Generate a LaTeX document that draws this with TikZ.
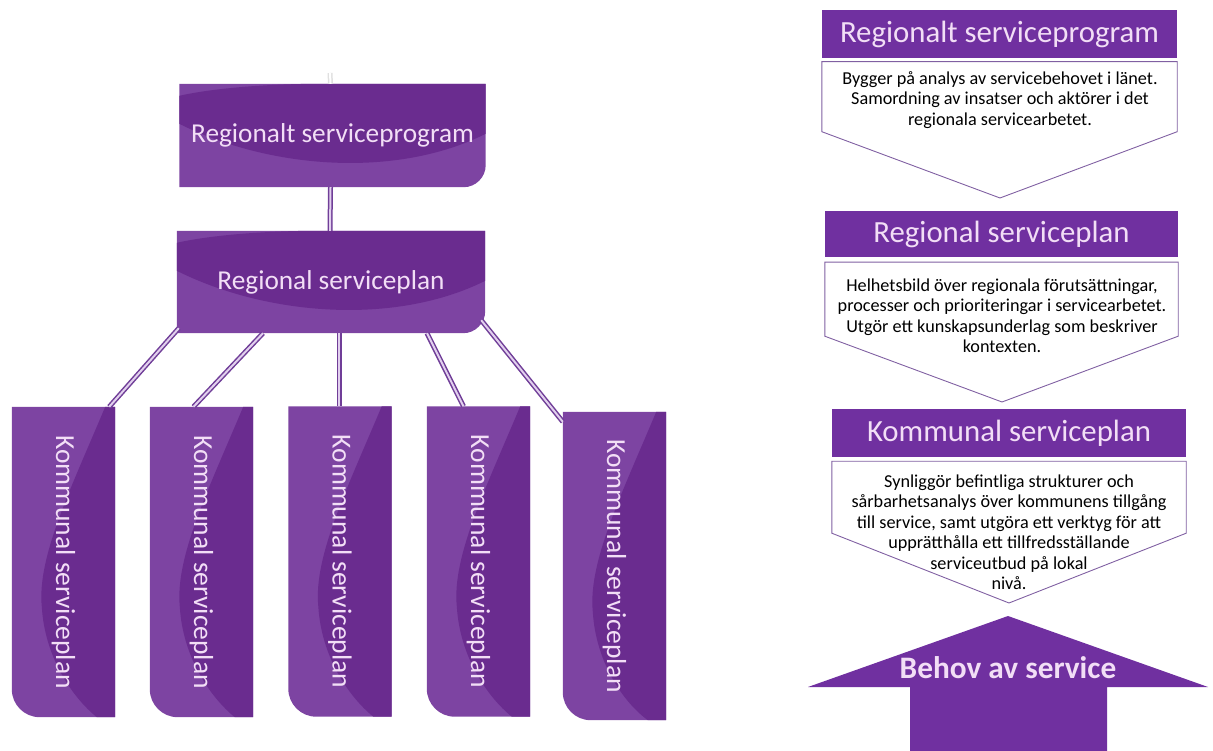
\documentclass[tikz,border=0pt]{standalone}
\usepackage{fontspec}
\setmainfont{Carlito}
\usepackage{graphicx}
\usetikzlibrary{calc}
\pgfdeclarelayer{background}
\pgfsetlayers{background,main}
\definecolor{boxlight}{RGB}{125,68,162}
\definecolor{boxdark}{RGB}{106,44,143}
\definecolor{headpurple}{RGB}{112,48,160}
\definecolor{lavender}{RGB}{242,222,246}
\definecolor{linkpurple}{RGB}{112,62,152}
\definecolor{linklight}{RGB}{226,208,238}
\definecolor{edgepurple}{RGB}{128,96,162}
\newcommand{\wideshape}[1]{%
  \fill[boxlight] (#1.south west) -- (#1.north west) -- (#1.north east)
    -- ([yshift=22pt]#1.south east)
    .. controls ([yshift=10pt]#1.south east) and ([xshift=-10pt]#1.south east)
    .. ([xshift=-22pt]#1.south east) -- cycle;
  \fill[boxdark] ([shift={(0,12)}]#1.north west)
    .. controls ([shift={(40,3)}]#1.north west) and ([shift={(100,0)}]#1.north west)
    .. ([shift={(140,0)}]#1.north west) -- (#1.north east)
    -- ([shift={(0,50)}]#1.north east)
    .. controls ([shift={(-90,95)}]#1.north east) and ([shift={(90,85)}]#1.north west)
    .. ([shift={(0,40)}]#1.north west) -- cycle;}
\newcommand{\tallshape}[1]{%
  \fill[boxlight] (#1.north west) -- (#1.north east) -- (#1.south east)
    -- ([xshift=28pt]#1.south west)
    .. controls ([xshift=12.5pt]#1.south west) and ([yshift=12.5pt]#1.south west)
    .. ([yshift=28pt]#1.south west) -- cycle;
  \fill[boxdark] ([shift={(-10,0)}]#1.north east)
    .. controls ([shift={(60,80)}]#1.north west) and ([shift={(25,150)}]#1.north west)
    .. ([shift={(30,200)}]#1.north west)
    .. controls ([shift={(33,250)}]#1.north west) and ([shift={(60,290)}]#1.north west)
    .. ([shift={(85,0)}]#1.south west) -- (#1.south east) -- (#1.north east) -- cycle;}

\begin{document}
\begin{tikzpicture}[x=1pt, y=-1pt]
  \tikzset{
    widebox/.style={minimum width=306pt, minimum height=103pt, inner sep=0pt,
      text=lavender, font=\fontsize{27.3}{32}\selectfont},
    tallbox/.style={minimum width=103pt, minimum height=310pt, inner sep=0pt,
      text=lavender, font=\fontsize{27.5}{32}\selectfont},
    link/.style={draw=linkpurple, line width=1.5pt, double=linklight, double distance=2pt},
    head/.style={fill=headpurple, minimum width=355pt, minimum height=48pt, inner sep=0pt,
      text=lavender, font=\fontsize{30.8}{34}\selectfont},
    note/.style={align=center, font=\fontsize{18.2}{20.5}\selectfont, inner sep=0pt},
    penta/.style={draw=edgepurple, line width=0.9pt}
  }
  \useasboundingbox (0,0) rectangle (1213,751);

  % left: the plan hierarchy
  \node[widebox] (prog) at (332.5,135.5) {Regionalt serviceprogram};
  \node[widebox, minimum width=308pt, minimum height=102pt] (plan) at (331,282) {Regional serviceplan};
  \node[tallbox] (k1) at (63.5,562) {\rotatebox{-90}{Kommunal serviceplan}};
  \node[tallbox] (k2) at (201.5,562) {\rotatebox{-90}{Kommunal serviceplan}};
  \node[tallbox] (k3) at (340,561.5) {\rotatebox{-90}{Kommunal serviceplan}};
  \node[tallbox] (k4) at (478.5,561.5) {\rotatebox{-90}{Kommunal serviceplan}};
  \node[tallbox, minimum height=308pt] (k5) at (614.5,566) {\rotatebox{-90}{Kommunal serviceplan}};
  \coordinate (stub) at (330,73);

  \begin{pgfonlayer}{background}
    \wideshape{prog}
    \wideshape{plan}
    \foreach \k in {k1,k2,k3,k4,k5}
      {\tallshape{\k}}
    \draw[link, draw=black!12, double=white] (stub) -- ([xshift=-2pt]prog.north);
    \draw[link] ([xshift=-2pt]prog.south) -- ([xshift=-1pt]plan.north);
    \draw[link] ([shift={(2,-5)}]plan.south west) -- ([xshift=-6pt]k1.north east);
    \draw[link] ([xshift=-68pt]plan.south) -- ([xshift=-8pt]k2.north);
    \draw[link] ([xshift=8pt]plan.south) -- ([xshift=-1pt]k3.north);
    \draw[link] ([xshift=96pt]plan.south) -- ([xshift=-15pt]k4.north);
    \draw[link] ([shift={(-4,-13)}]plan.south east) -- ([yshift=-10pt]k5.north west);
  \end{pgfonlayer}

  % right: the three levels
  \node[head] (h1) at (999.5,34.5) {Regionalt serviceprogram};
  \node[head, minimum width=353pt, minimum height=46pt] (h2) at (1001.5,234) {Regional serviceplan};
  \node[head, minimum width=354pt] (h3) at (1009,433) {Kommunal serviceplan};
  \coordinate (t1) at (1000,198);
  \coordinate (t2) at (1002,402);
  \coordinate (t3) at (1009,603);
  \draw[penta] ([yshift=-3pt]h1.south west) -- ([yshift=-73pt]h1.south west) -- (t1)
    -- ([yshift=-73pt]h1.south east) -- ([yshift=-3pt]h1.south east) -- cycle;
  \draw[penta] ([yshift=-5pt]h2.south west) -- ([yshift=-79pt]h2.south west) -- (t2)
    -- ([yshift=-79pt]h2.south east) -- ([yshift=-5pt]h2.south east) -- cycle;
  \draw[penta] ([yshift=-4pt]h3.south west) -- ([yshift=-76pt]h3.south west) -- (t3)
    -- ([yshift=-76pt]h3.south east) -- ([yshift=-4pt]h3.south east) -- cycle;
  \node[note] (d1) at (1000,100) {Bygger på analys av servicebehovet i länet.\\
    Samordning av insatser och aktörer i det\\ regionala servicearbetet.};
  \node[note] (d2) at (1002,316) {Helhetsbild över regionala förutsättningar,\\
    processer och prioriteringar i servicearbetet.\\
    Utgör ett kunskapsunderlag som beskriver\\ kontexten.};
  \node[note] (d3) at (1009,532) {Synliggör befintliga strukturer och\\
    sårbarhetsanalys över kommunens tillgång\\
    till service, samt utgöra ett verktyg för att\\
    upprätthålla ett tillfredsställande\\ serviceutbud på lokal\\ nivå.};

  % arrow from below
  \fill[headpurple] (1008,616) -- (1208,687) -- (1107,687) -- (1107,751)
    -- (910,751) -- (910,687) -- (808,687) -- cycle;
  \node[text=lavender, font=\bfseries\fontsize{31.3}{34}\selectfont] (need) at (1008,668) {Behov av service};
\end{tikzpicture}
\end{document}
